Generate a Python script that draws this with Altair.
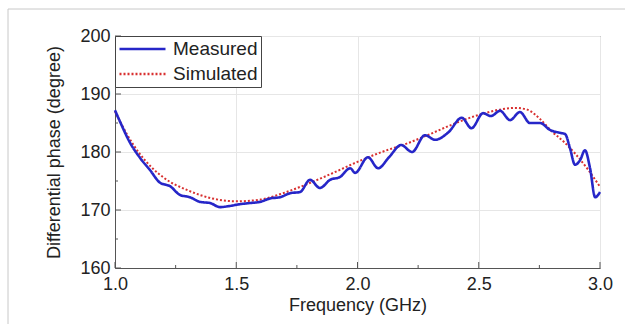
import altair as alt
import pandas as pd

# ---- data ----
meas_f = [1.000, 1.021, 1.062, 1.103, 1.144, 1.186, 1.227, 1.268, 1.309, 1.350,
          1.392, 1.433, 1.474, 1.515, 1.557, 1.598, 1.640, 1.680, 1.722, 1.763,
          1.804, 1.845, 1.887, 1.928, 1.970, 1.990, 2.043, 2.085, 2.130, 2.180,
          2.225, 2.278, 2.320, 2.375, 2.430, 2.470, 2.518, 2.550, 2.588, 2.629,
          2.670, 2.711, 2.753, 2.794, 2.835, 2.856, 2.876, 2.897, 2.918, 2.938,
          2.959, 2.980, 3.000]
meas_v = [187.2, 185.2, 181.6, 179.0, 176.9, 174.7, 174.1, 172.6, 172.2, 171.4,
          171.2, 170.5, 170.7, 171.0, 171.2, 171.4, 172.0, 172.2, 172.9, 173.1,
          175.2, 173.8, 175.2, 175.7, 177.2, 176.4, 179.1, 177.2, 179.1, 181.2,
          180.0, 182.9, 182.1, 183.4, 185.9, 184.1, 186.7, 186.2, 187.1, 185.5,
          186.9, 185.0, 185.0, 183.8, 183.3, 183.1, 180.7, 177.8, 178.6, 180.3,
          177.2, 172.2, 173.1]

sim_f = [1.00, 1.05, 1.10, 1.15, 1.20, 1.30, 1.40, 1.50, 1.60, 1.70, 1.80,
         1.90, 2.00, 2.10, 2.20, 2.30, 2.40, 2.50, 2.60, 2.65, 2.70, 2.75,
         2.80, 2.85, 2.90, 2.95, 3.00]
sim_v = [187.0, 183.0, 179.8, 177.4, 175.6, 173.4, 172.0, 171.5, 171.8, 173.0,
         174.6, 176.4, 178.3, 180.0, 181.4, 183.1, 184.9, 186.4, 187.4, 187.6,
         187.3, 185.8, 183.6, 181.8, 179.6, 177.0, 174.0]

series_names = ["Measured", "Simulated"]
series_colors = ["#2626c8", "#d83030"]

x_major = [1.0, 1.5, 2.0, 2.5, 3.0]
x_minor = [1.25, 1.75, 2.25, 2.75]
y_major = [160, 170, 180, 190, 200]
y_minor = [165, 175, 185, 195]

W, H = 485, 232
FONT = "Liberation Sans"

meas_df = pd.DataFrame({"freq": meas_f, "phase": meas_v, "series": series_names[0]})
sim_df = pd.DataFrame({"freq": sim_f, "phase": sim_v, "series": series_names[1]})

xscale = alt.Scale(domain=[1.0, 3.0], nice=False, zero=False)
yscale = alt.Scale(domain=[160, 200], nice=False, zero=False)

legend = alt.Legend(
    title=None, orient="top-left", offset=0, symbolType="stroke",
    symbolSize=2116, symbolStrokeWidth=2.5, clipHeight=20, rowPadding=5,
    padding=3, labelFontSize=19, labelFont=FONT, labelColor="#222",
    labelOffset=6, strokeColor="#444", fillColor="white", cornerRadius=0,
)

color = alt.Color("series:N", scale=alt.Scale(domain=series_names, range=series_colors), legend=legend)
dash = alt.StrokeDash("series:N", scale=alt.Scale(domain=series_names, range=[[1, 0], [2, 2]]), legend=legend)

xaxis = alt.Axis(values=x_major, format=".1f", title="Frequency (GHz)", tickSize=0,
                 labelPadding=7, labelFontSize=18, labelFont=FONT, labelColor="#222",
                 labelFlush=False, labelOverlap=False, labelBound=False,
                 titleFontSize=18, titleFont=FONT, titleFontWeight="normal", titleColor="#222",
                 titlePadding=3, grid=True, gridColor="#e6e6e6", domainColor="#555")
yaxis = alt.Axis(values=y_major, title="Differential phase (degree)", tickSize=0,
                 labelPadding=5, labelFontSize=18, labelFont=FONT, labelColor="#222",
                 labelFlush=False, labelOverlap=False, labelBound=False,
                 titleFontSize=18, titleFont=FONT, titleFontWeight="normal", titleColor="#222",
                 titlePadding=16, grid=True, gridColor="#e6e6e6", domainColor="#555")

sim_line = alt.Chart(sim_df).mark_line(interpolate="monotone", strokeWidth=2).encode(
    x=alt.X("freq:Q", scale=xscale, axis=xaxis),
    y=alt.Y("phase:Q", scale=yscale, axis=yaxis),
    color=color, strokeDash=dash,
)
meas_line = alt.Chart(meas_df).mark_line(interpolate="monotone", strokeWidth=2.6).encode(
    x=alt.X("freq:Q", scale=xscale),
    y=alt.Y("phase:Q", scale=yscale),
    color=color, strokeDash=dash,
)

# inward ticks
yt_major = alt.Chart(pd.DataFrame({"v": y_major})).mark_rule(color="#555").encode(
    y=alt.Y("v:Q", scale=yscale), x=alt.value(0), x2=alt.value(6))
yt_minor = alt.Chart(pd.DataFrame({"v": y_minor})).mark_rule(color="#555").encode(
    y=alt.Y("v:Q", scale=yscale), x=alt.value(0), x2=alt.value(3))
xt_major = alt.Chart(pd.DataFrame({"v": x_major})).mark_rule(color="#555").encode(
    x=alt.X("v:Q", scale=xscale), y=alt.value(H), y2=alt.value(H - 6))
xt_minor = alt.Chart(pd.DataFrame({"v": x_minor})).mark_rule(color="#555").encode(
    x=alt.X("v:Q", scale=xscale), y=alt.value(H), y2=alt.value(H - 3))

# faint outer frame of the figure (top and left edges)
frame_top = alt.Chart(pd.DataFrame({"a": [0]})).mark_rule(color="#c8c8c8").encode(
    x=alt.value(-107), x2=alt.value(510), y=alt.value(-27))
frame_left = alt.Chart(pd.DataFrame({"a": [0]})).mark_rule(color="#c8c8c8").encode(
    x=alt.value(-107), y=alt.value(-27), y2=alt.value(288))

chart = alt.layer(
    frame_top, frame_left, sim_line, meas_line, yt_major, yt_minor, xt_major, xt_minor
).properties(
    width=W, height=H,
    autosize=alt.AutoSizeParams(type="none"),
    padding={"left": 115, "top": 36, "right": 25, "bottom": 56},
    background="white",
).configure_view(stroke="#555", strokeWidth=1)

chart.save("out.html", embed_options={"renderer": "svg", "actions": False})
